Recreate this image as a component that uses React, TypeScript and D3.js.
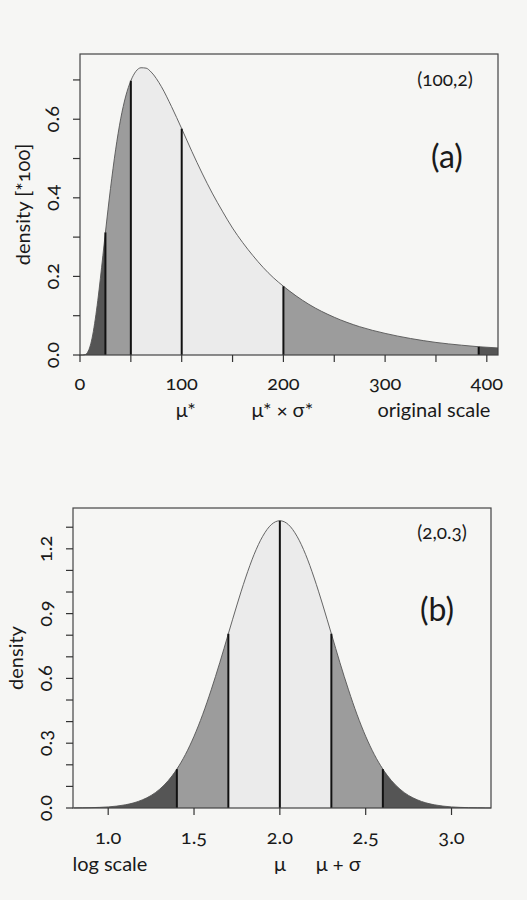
import React from "react";
import * as d3 from "d3";

// panel (a): lognormal density, original scale
const lnX = [0, 2.5, 5, 7.5, 10, 12.5, 15, 17.5, 20, 22.5, 25, 30, 35, 40, 45, 50, 55, 60, 65, 70, 80, 90, 100,
  110, 120, 130, 140, 150, 160, 170, 180, 190, 200, 225, 250, 275, 300, 325, 350, 375, 392, 411];
const lnDensity = [0, 0, 0.001, 0.007, 0.023, 0.051, 0.091, 0.139, 0.194, 0.253, 0.312, 0.424, 0.522, 0.601, 0.659,
  0.698, 0.722, 0.731, 0.730, 0.720, 0.683, 0.632, 0.576, 0.518, 0.463, 0.412, 0.366, 0.323, 0.286, 0.253, 0.223,
  0.197, 0.175, 0.129, 0.096, 0.072, 0.055, 0.042, 0.032, 0.025, 0.021, 0.018];
const lnCuts = [25, 50, 100, 200, 392];
const lnXTicks = [0, 50, 100, 150, 200, 250, 300, 350, 400];
const lnXLabels = [0, 100, 200, 300, 400];
const lnYTicks = [0, 0.1, 0.2, 0.3, 0.4, 0.5, 0.6, 0.7];
const lnYLabels = [0, 0.2, 0.4, 0.6];
const lnNotes = [
  { x: 104, text: "μ*" },
  { x: 199, text: "μ* × σ*" },
  { x: 348, text: "original scale" },
];

// panel (b): normal density, log scale
const nX = [0.8, 0.85, 0.9, 0.95, 1.0, 1.05, 1.1, 1.15, 1.2, 1.25, 1.3, 1.35, 1.4, 1.45, 1.5, 1.55, 1.6, 1.65, 1.7,
  1.75, 1.8, 1.85, 1.9, 1.95, 2.0, 2.05, 2.1, 2.15, 2.2, 2.25, 2.3, 2.35, 2.4, 2.45, 2.5, 2.55, 2.6, 2.65, 2.7,
  2.75, 2.8, 2.85, 2.9, 2.95, 3.0, 3.05, 3.1, 3.15, 3.2, 3.23];
const nDensity = [0.0005, 0.0009, 0.0016, 0.0029, 0.0051, 0.0088, 0.0148, 0.024, 0.038, 0.058, 0.087, 0.127, 0.18,
  0.248, 0.332, 0.432, 0.547, 0.673, 0.807, 0.94, 1.065, 1.174, 1.258, 1.312, 1.33, 1.312, 1.258, 1.174, 1.065,
  0.94, 0.807, 0.673, 0.547, 0.432, 0.332, 0.248, 0.18, 0.127, 0.087, 0.058, 0.038, 0.024, 0.0148, 0.0088, 0.0051,
  0.0029, 0.0016, 0.0009, 0.0005, 0.0004];
const nCuts = [1.4, 1.7, 2.0, 2.3, 2.6];
const nXTicks = [1.0, 1.5, 2.0, 2.5, 3.0];
const nYTicks = [0, 0.1, 0.2, 0.3, 0.4, 0.5, 0.6, 0.7, 0.8, 0.9, 1.0, 1.1, 1.2, 1.3];
const nYLabels = [0, 0.3, 0.6, 0.9, 1.2];
const nNotes = [
  { x: 1.01, text: "log scale" },
  { x: 2.0, text: "μ" },
  { x: 2.34, text: "μ + σ" },
];

const shades = ["#555555", "#9c9c9c", "#ebebeb", "#ebebeb", "#9c9c9c", "#555555"];
const FONT = "Lato, 'Open Sans', sans-serif";

type PanelProps = {
  xs: number[];
  ys: number[];
  cuts: number[];
  xDomain: [number, number];
  yDomain: [number, number];
  left: number;
  right: number;
  top: number;
  bottom: number;
  xTicks: number[];
  xLabels: number[];
  xFmt: (v: number) => string;
  labelGap: number;
  yTicks: number[];
  yLabels: number[];
  yFmt: (v: number) => string;
  notes: { x: number; text: string }[];
  yTitle: string;
  params: string;
  tag: string;
  paramsPos: [number, number];
  tagPos: [number, number];
};

function Panel(p: PanelProps) {
  const x = d3.scaleLinear().domain(p.xDomain).range([p.left, p.right]);
  const y = d3.scaleLinear().domain(p.yDomain).range([p.bottom, p.top]);
  const pts = p.xs.map((v, i) => [v, p.ys[i]] as [number, number]);
  const line = d3.line<[number, number]>().x(d => x(d[0])).y(d => y(d[1])).curve(d3.curveMonotoneX);
  const area = d3.area<[number, number]>().x(d => x(d[0])).y0(y(0)).y1(d => y(d[1])).curve(d3.curveMonotoneX);
  const bounds = [p.xs[0], ...p.cuts, p.xs[p.xs.length - 1]];
  const segs = bounds.slice(0, -1).map((a, i) => pts.filter(d => d[0] >= a && d[0] <= bounds[i + 1]));
  const dens = (v: number) => p.ys[p.xs.indexOf(v)];
  const midY = (p.top + p.bottom) / 2;
  return (
    <g fontFamily={FONT} style={{ fontVariantNumeric: "oldstyle-nums" }} fill="#1a1a1a">
      {segs.map((s, i) => (
        <path key={i} d={area(s) || ""} fill={shades[i]} stroke="none" />
      ))}
      <path d={line(pts) || ""} fill="none" stroke="#555" strokeWidth={0.9} />
      {p.cuts.map(c => (
        <line key={c} x1={x(c)} x2={x(c)} y1={y(0)} y2={y(dens(c))} stroke="#111" strokeWidth={2} />
      ))}
      <rect x={p.left} y={p.top} width={p.right - p.left} height={p.bottom - p.top} fill="none" stroke="#444" strokeWidth={1.2} />
      {p.xTicks.map(t => (
        <line key={t} x1={x(t)} x2={x(t)} y1={p.bottom} y2={p.bottom + 7} stroke="#333" strokeWidth={1.2} />
      ))}
      {p.xLabels.map(t => (
        <text key={t} x={x(t)} y={p.bottom + p.labelGap} textAnchor="middle" fontSize={20}>{p.xFmt(t)}</text>
      ))}
      {p.notes.map(n => (
        <text key={n.text} x={x(n.x)} y={p.bottom + p.labelGap + 27} textAnchor="middle" fontSize={20}>{n.text}</text>
      ))}
      {p.yTicks.map(t => (
        <line key={t} x1={p.left - 7} x2={p.left} y1={y(t)} y2={y(t)} stroke="#333" strokeWidth={1.2} />
      ))}
      {p.yLabels.map(t => (
        <text key={t} transform={`translate(${p.left - 21},${y(t)}) rotate(-90)`} textAnchor="middle" fontSize={20}>
          {p.yFmt(t)}
        </text>
      ))}
      <text transform={`translate(${p.left - 50},${midY}) rotate(-90)`} textAnchor="middle" fontSize={20}>
        {p.yTitle}
      </text>
      <text x={p.paramsPos[0]} y={p.paramsPos[1]} textAnchor="middle" fontSize={19}>{p.params}</text>
      <text x={p.tagPos[0]} y={p.tagPos[1]} textAnchor="middle" fontSize={32}>{p.tag}</text>
    </g>
  );
}

export default function App() {
  return (
    <svg width={527} height={900} style={{ position: "absolute", left: 0, top: 0, background: "#f6f6f4" }}>
      <Panel
        xs={lnX}
        ys={lnDensity}
        cuts={lnCuts}
        xDomain={[0, 411]}
        yDomain={[0, 0.766]}
        left={80}
        right={498}
        top={54}
        bottom={355}
        xTicks={lnXTicks}
        xLabels={lnXLabels}
        xFmt={v => String(v)}
        labelGap={35}
        yTicks={lnYTicks}
        yLabels={lnYLabels}
        yFmt={v => d3.format(".1f")(v)}
        notes={lnNotes}
        yTitle="density [*100]"
        params="(100,2)"
        tag="(a)"
        paramsPos={[445, 86]}
        tagPos={[447, 168]}
      />
      <Panel
        xs={nX}
        ys={nDensity}
        cuts={nCuts}
        xDomain={[0.795, 3.23]}
        yDomain={[0, 1.389]}
        left={73}
        right={491}
        top={508}
        bottom={808}
        xTicks={nXTicks}
        xLabels={nXTicks}
        xFmt={v => d3.format(".1f")(v)}
        labelGap={36}
        yTicks={nYTicks}
        yLabels={nYLabels}
        yFmt={v => d3.format(".1f")(v)}
        notes={nNotes}
        yTitle="density"
        params="(2,0.3)"
        tag="(b)"
        paramsPos={[442, 539]}
        tagPos={[437, 621]}
      />
    </svg>
  );
}
